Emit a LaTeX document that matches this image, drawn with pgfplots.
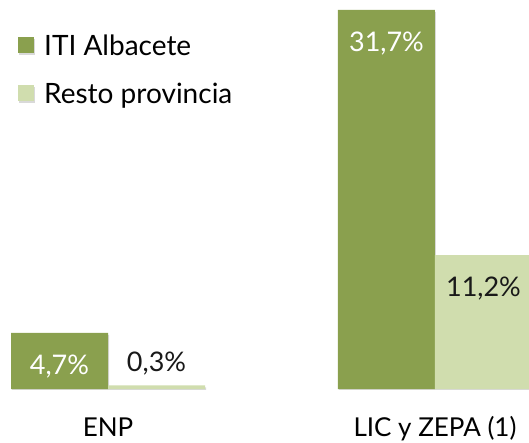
\documentclass[border=0pt]{standalone}
\usepackage{pgfplots}
\pgfplotsset{compat=1.18}
\usepackage{fontspec}
\setmainfont{Lato}
\definecolor{dgreen}{HTML}{8AA04E}
\definecolor{lgreen}{HTML}{D0DDAE}
\begin{document}
\begin{tikzpicture}
\begin{axis}[
  scale only axis, width=529bp, height=389bp,
  xmin=-0.3303, xmax=1.2875, ymin=0, ymax=32.52,
  ybar=0pt, bar width=97bp,
  axis line style={draw=none}, tick style={draw=none},
  ytick=\empty, xtick={0,1}, xticklabels={ENP, LIC y ZEPA (1)},
  xticklabel style={font=\fontsize{26bp}{30bp}\selectfont, anchor=base, yshift=-43bp},
  enlargelimits=false,
  visualization depends on={y \as \rawy},
  nodes near coords={\pgfmathprintnumber[fixed,precision=1,fixed zerofill,use comma,assume math mode=true]{\pgfplotspointmeta}\%},
  every node near coord/.append style={font=\fontsize{27bp}{32bp}\selectfont, anchor=base, yshift={\rawy<1 ? 14 : -42}},
  legend style={draw=none, fill=none, at={(rel axis cs:0.034,0.915)}, anchor=north west,
    font=\fontsize{28bp}{34bp}\selectfont, row sep=22bp, inner sep=0pt,
    /tikz/every odd column/.append style={column sep=8bp}},
  legend cell align=left,
]
\addplot[draw=none, fill=dgreen, preaction={fill=black!15, transform canvas={yshift=-2bp, xshift=1bp}},
  every node near coord/.append style={text=white},
  legend image code/.code={\fill[dgreen] (0bp,-7bp) rectangle (16bp,9bp);}]
  coordinates {(0,4.7) (1,31.7)};
\addlegendentry{ITI Albacete}
\addplot[draw=none, fill=lgreen, preaction={fill=black!15, transform canvas={yshift=-2bp, xshift=1bp}},
  every node near coord/.append style={text=black!90},
  legend image code/.code={\fill[lgreen] (0bp,-7bp) rectangle (16bp,9bp);}]
  coordinates {(0,0.3) (1,11.2)};
\addlegendentry{Resto provincia}
\end{axis}
\pgfresetboundingbox
\path[use as bounding box] ([yshift=-54bp]current axis.south west) rectangle (current axis.north east);
\end{tikzpicture}
\end{document}
